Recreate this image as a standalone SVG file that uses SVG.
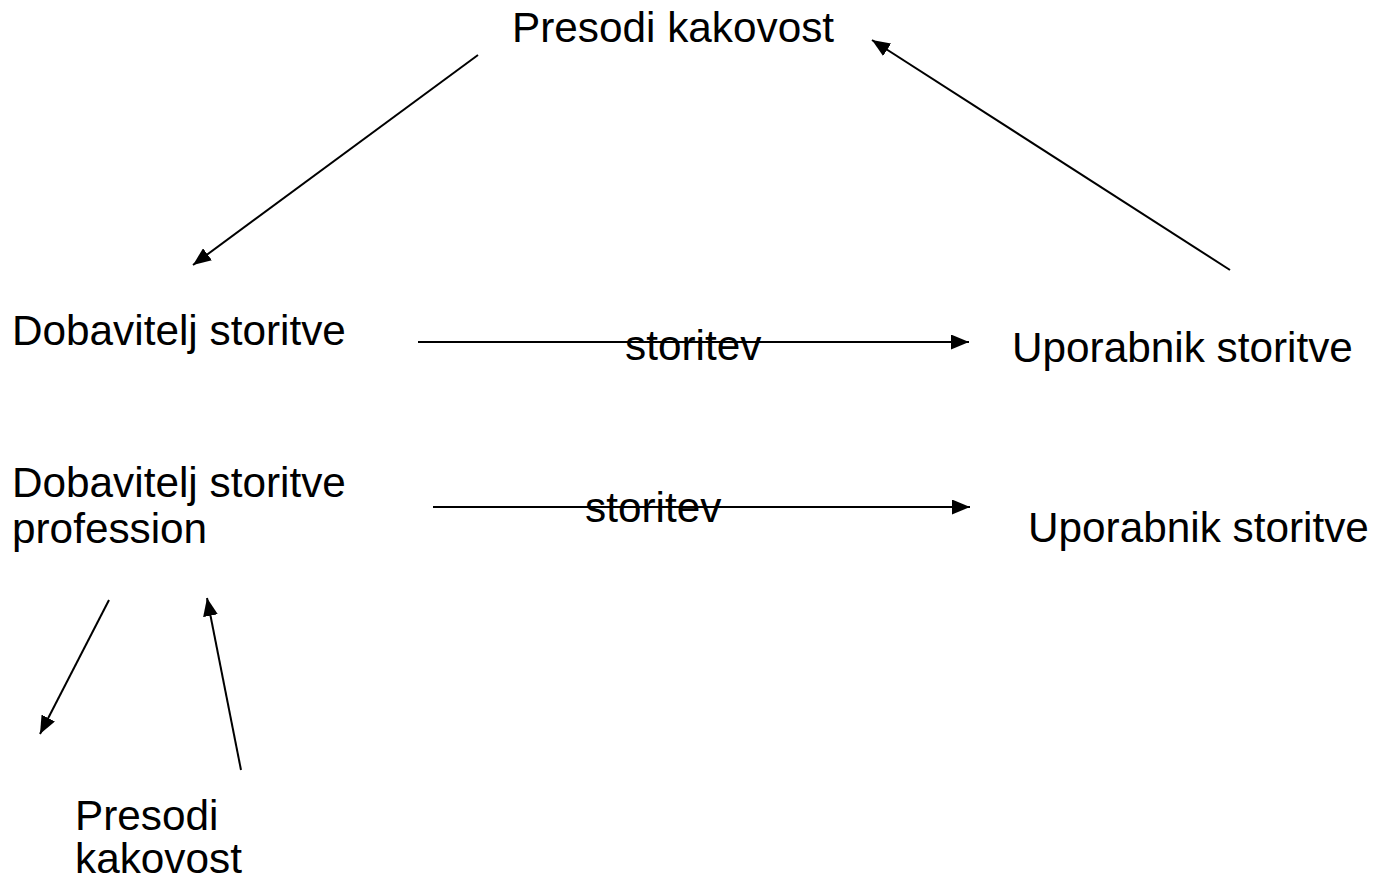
<svg xmlns="http://www.w3.org/2000/svg" width="1373" height="880" viewBox="0 0 1373 880">
<style>
text{font-family:"Liberation Sans",Arial,sans-serif;font-size:42.3px;fill:#000}
.c{stroke:#000;stroke-width:2;fill:none;marker-end:url(#a)}
</style>
<defs>
<marker id="a" viewBox="0 0 12 10" refX="12" refY="5" markerWidth="9" markerHeight="7.5" markerUnits="strokeWidth" orient="auto">
<path d="M0,0L12,5L0,10z" fill="#000"/>
</marker>
</defs>
<rect width="1373" height="880" fill="#fff"/>
<g id="connectors">
<line class="c" x1="478" y1="55" x2="193" y2="265"/>
<line class="c" x1="1230" y1="270" x2="872" y2="40"/>
<line class="c" x1="418" y1="342" x2="969" y2="342"/>
<line class="c" x1="433" y1="507" x2="970" y2="507"/>
<line class="c" x1="109" y1="600" x2="40" y2="734"/>
<line class="c" x1="241" y1="770" x2="207" y2="598"/>
</g>
<g id="n1"><text x="512" y="42">Presodi kakovost</text></g>
<g id="n2"><text x="12" y="345">Dobavitelj storitve</text></g>
<g id="n3"><text x="1012" y="362">Uporabnik storitve</text></g>
<g id="n4"><text x="12" y="497">Dobavitelj storitve</text><text x="12" y="543">profession</text></g>
<g id="n5"><text x="1028" y="542">Uporabnik storitve</text></g>
<g id="n6"><text x="75" y="830">Presodi</text><text x="75" y="873">kakovost</text></g>
<g id="l1"><text x="625" y="360">storitev</text></g>
<g id="l2"><text x="585" y="522">storitev</text></g>
</svg>
